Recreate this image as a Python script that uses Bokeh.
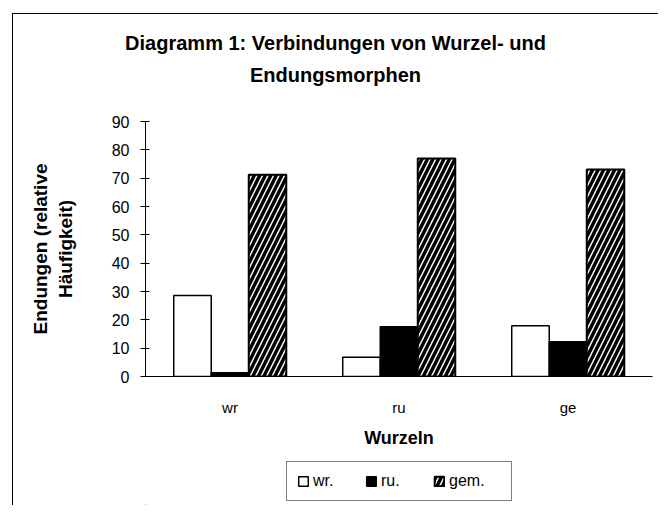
from bokeh.plotting import figure
from bokeh.layouts import column
from bokeh.models import (ColumnDataSource, FactorRange, Range1d, LinearAxis, CategoricalAxis,
                          FixedTicker, Div, Legend, LegendItem)
from bokeh.transform import dodge
from bokeh.embed import file_html
from bokeh.resources import INLINE

# ---- data ----
categories = ["wr", "ru", "ge"]
series_names = ["wr.", "ru.", "gem."]
wr_values = [28.6, 6.8, 17.9]
ru_values = [1.3, 17.6, 12.3]
gem_values = [71.2, 76.9, 73.1]
y_ticks = [0, 10, 20, 30, 40, 50, 60, 70, 80, 90]

title_lines = ["Diagramm 1: Verbindungen von Wurzel- und", "Endungsmorphen"]
y_title = "Endungen (relative\nHäufigkeit)"
x_title = "Wurzeln"

FONT = "Liberation Sans"
W = 645
H_TITLE, H_MAIN, H_LEG = 97, 344, 50

# styles shared by the bar series (used in the chart and in the legend strip)
series_styles = [
    dict(fill_color="white", line_color="black", line_width=1.5),
    dict(fill_color="black", line_color="black", line_width=1.5),
    dict(fill_color="white", line_color="black", line_width=2,
         hatch_pattern="/", hatch_color="black", hatch_weight=3.5, hatch_scale=11),
]

# ---- title block ----
title_html = ('<div style="width:%dpx; text-align:center; font-family:\'%s\'; font-weight:bold; '
              'font-size:20px; line-height:32px; padding-top:13px; color:#000;">%s</div>'
              % (W, FONT, "<br>".join(title_lines)))
pt = Div(text=title_html, width=W, height=H_TITLE, margin=0)

# ---- main chart ----
source = ColumnDataSource(dict(cat=categories, wr=wr_values, ru=ru_values, gem=gem_values))

p = figure(width=W, height=H_MAIN, x_range=FactorRange(*categories), y_range=Range1d(0, 90),
           x_axis_type=None, y_axis_type=None, output_backend="svg", toolbar_location=None,
           min_border_left=132, min_border_right=6, min_border_top=10, min_border_bottom=79)
p.outline_line_color = None
p.background_fill_color = "white"
p.border_fill_color = "white"

yax = LinearAxis(ticker=FixedTicker(ticks=y_ticks))
yax.axis_line_color = "black"
yax.major_tick_line_color = "black"
yax.major_tick_in = 4
yax.major_tick_out = 5
yax.minor_tick_line_color = None
yax.major_label_text_font = FONT
yax.major_label_text_font_size = "16px"
yax.major_label_text_color = "black"
yax.major_label_standoff = 11
yax.axis_label = y_title
yax.axis_label_text_font = FONT
yax.axis_label_text_font_size = "19px"
yax.axis_label_text_font_style = "bold"
yax.axis_label_text_color = "black"
yax.axis_label_standoff = 33
p.add_layout(yax, "left")
p.ygrid.grid_line_color = "#111111"
p.ygrid.grid_line_width = 1
p.ygrid.ticker = FixedTicker(ticks=y_ticks)

xc = CategoricalAxis()
xc.axis_line_color = "black"
xc.major_tick_line_color = None
xc.major_tick_out = 0
xc.major_tick_in = 0
xc.minor_tick_line_color = None
xc.major_label_text_font = FONT
xc.major_label_text_font_size = "15px"
xc.major_label_text_color = "black"
xc.major_label_standoff = 22
xc.axis_label = x_title
xc.axis_label_text_font = FONT
xc.axis_label_text_font_size = "18px"
xc.axis_label_text_font_style = "bold"
xc.axis_label_text_color = "black"
xc.axis_label_standoff = 9
p.add_layout(xc, "below")

bw = 0.222
offsets = [-bw, 0, bw]
cols = ["wr", "ru", "gem"]
for col, off, st in zip(cols, offsets, series_styles):
    p.vbar(x=dodge("cat", off, range=p.x_range), top=col, width=bw, source=source, **st)

# ---- legend strip (its swatch renderers sit outside the visible range) ----
pl = figure(width=W, height=H_LEG, x_range=Range1d(10, 11), y_range=Range1d(10, 11),
            x_axis_type=None, y_axis_type=None, output_backend="svg", toolbar_location=None,
            min_border_left=0, min_border_right=0, min_border_top=0, min_border_bottom=0)
pl.outline_line_color = None
pl.xgrid.visible = False
pl.ygrid.visible = False
pl.background_fill_color = "white"
pl.border_fill_color = "white"
leg_renderers = [pl.vbar(x=[0], top=[0], width=0, **st) for st in series_styles]
legend = Legend(items=[LegendItem(label=n, renderers=[r]) for n, r in zip(series_names, leg_renderers)],
                orientation="horizontal", location=(141, 4))
legend.border_line_color = "black"
legend.border_line_width = 1
legend.background_fill_color = "white"
legend.background_fill_alpha = 1
legend.padding = 10
legend.margin = 0
legend.spacing = 0
legend.glyph_width = 12
legend.glyph_height = 12
legend.label_standoff = 4
legend.label_width = 52
legend.label_height = 15
legend.label_text_font = FONT
legend.label_text_font_size = "16px"
legend.label_text_color = "black"
legend.label_text_baseline = "middle"
pl.add_layout(legend, "center")

page = column(pt, p, pl, spacing=0,
              styles={"margin-left": "12px", "margin-top": "13px",
                      "border-left": "1px solid #000", "border-top": "1px solid #000"})

open("out.html", "w").write(file_html(page, INLINE))
